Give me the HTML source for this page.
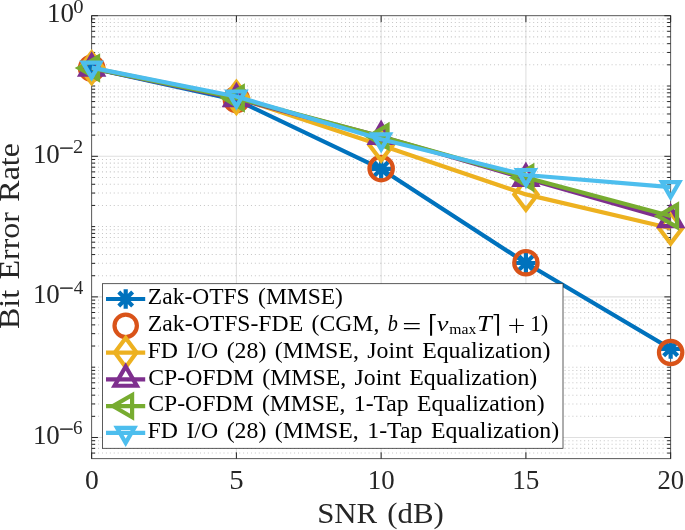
<!DOCTYPE html>
<html lang="en"><head><meta charset="utf-8"><title>BER vs SNR</title>
<style>html,body{margin:0;padding:0;background:#fff}svg{display:block}text{font-family:"Liberation Serif","DejaVu Serif",serif;fill:#262626}.lg text{fill:#000}.xl{font-family:"DejaVu Sans",sans-serif;font-weight:200}.mt{font-family:"DejaVu Math TeX Gyre","DejaVu Serif",serif}</style></head><body>
<svg width="685" height="530" viewBox="0 0 685 530">
<rect width="685" height="530" fill="#fff"/>
<defs><clipPath id="ax"><rect x="91.65" y="15.7" width="579" height="442.95"/></clipPath></defs>
<path d="M91.65 86H670.65M91.65 226.59H670.65M91.65 367.19H670.65M91.65 64.84H670.65M91.65 52.46H670.65M91.65 43.67H670.65M91.65 36.86H670.65M91.65 31.3H670.65M91.65 26.59H670.65M91.65 22.51H670.65M91.65 18.92H670.65M91.65 135.13H670.65M91.65 122.76H670.65M91.65 113.97H670.65M91.65 107.16H670.65M91.65 101.59H670.65M91.65 96.89H670.65M91.65 92.81H670.65M91.65 89.21H670.65M91.65 205.43H670.65M91.65 193.05H670.65M91.65 184.27H670.65M91.65 177.46H670.65M91.65 171.89H670.65M91.65 167.19H670.65M91.65 163.11H670.65M91.65 159.51H670.65M91.65 275.73H670.65M91.65 263.35H670.65M91.65 254.57H670.65M91.65 247.76H670.65M91.65 242.19H670.65M91.65 237.48H670.65M91.65 233.41H670.65M91.65 229.81H670.65M91.65 346.03H670.65M91.65 333.65H670.65M91.65 324.87H670.65M91.65 318.05H670.65M91.65 312.49H670.65M91.65 307.78H670.65M91.65 303.7H670.65M91.65 300.11H670.65M91.65 416.33H670.65M91.65 403.95H670.65M91.65 395.16H670.65M91.65 388.35H670.65M91.65 382.79H670.65M91.65 378.08H670.65M91.65 374H670.65M91.65 370.41H670.65M91.65 453.08H670.65M91.65 448.38H670.65M91.65 444.3H670.65M91.65 440.7H670.65" stroke="#1a1a1a" stroke-opacity="0.25" stroke-width="1.04" stroke-dasharray="1 2.92" stroke-dashoffset="-2.5" fill="none"/>
<path d="M236.4 15.7V458.65M381.15 15.7V458.65M525.9 15.7V458.65M91.65 156.3H670.65M91.65 296.89H670.65M91.65 437.49H670.65" stroke="#262626" stroke-opacity="0.15" stroke-width="1.04" fill="none"/>
<path d="M91.65 458.65v-6.3M91.65 15.7v6.3M236.4 458.65v-6.3M236.4 15.7v6.3M381.15 458.65v-6.3M381.15 15.7v6.3M525.9 458.65v-6.3M525.9 15.7v6.3M670.65 458.65v-6.3M670.65 15.7v6.3M91.65 15.7h6.3M670.65 15.7h-6.3M91.65 86h3.5M670.65 86h-3.5M91.65 156.3h6.3M670.65 156.3h-6.3M91.65 226.59h3.5M670.65 226.59h-3.5M91.65 296.89h6.3M670.65 296.89h-6.3M91.65 367.19h3.5M670.65 367.19h-3.5M91.65 437.49h6.3M670.65 437.49h-6.3M91.65 64.84h3.5M670.65 64.84h-3.5M91.65 52.46h3.5M670.65 52.46h-3.5M91.65 43.67h3.5M670.65 43.67h-3.5M91.65 36.86h3.5M670.65 36.86h-3.5M91.65 31.3h3.5M670.65 31.3h-3.5M91.65 26.59h3.5M670.65 26.59h-3.5M91.65 22.51h3.5M670.65 22.51h-3.5M91.65 18.92h3.5M670.65 18.92h-3.5M91.65 135.13h3.5M670.65 135.13h-3.5M91.65 122.76h3.5M670.65 122.76h-3.5M91.65 113.97h3.5M670.65 113.97h-3.5M91.65 107.16h3.5M670.65 107.16h-3.5M91.65 101.59h3.5M670.65 101.59h-3.5M91.65 96.89h3.5M670.65 96.89h-3.5M91.65 92.81h3.5M670.65 92.81h-3.5M91.65 89.21h3.5M670.65 89.21h-3.5M91.65 205.43h3.5M670.65 205.43h-3.5M91.65 193.05h3.5M670.65 193.05h-3.5M91.65 184.27h3.5M670.65 184.27h-3.5M91.65 177.46h3.5M670.65 177.46h-3.5M91.65 171.89h3.5M670.65 171.89h-3.5M91.65 167.19h3.5M670.65 167.19h-3.5M91.65 163.11h3.5M670.65 163.11h-3.5M91.65 159.51h3.5M670.65 159.51h-3.5M91.65 275.73h3.5M670.65 275.73h-3.5M91.65 263.35h3.5M670.65 263.35h-3.5M91.65 254.57h3.5M670.65 254.57h-3.5M91.65 247.76h3.5M670.65 247.76h-3.5M91.65 242.19h3.5M670.65 242.19h-3.5M91.65 237.48h3.5M670.65 237.48h-3.5M91.65 233.41h3.5M670.65 233.41h-3.5M91.65 229.81h3.5M670.65 229.81h-3.5M91.65 346.03h3.5M670.65 346.03h-3.5M91.65 333.65h3.5M670.65 333.65h-3.5M91.65 324.87h3.5M670.65 324.87h-3.5M91.65 318.05h3.5M670.65 318.05h-3.5M91.65 312.49h3.5M670.65 312.49h-3.5M91.65 307.78h3.5M670.65 307.78h-3.5M91.65 303.7h3.5M670.65 303.7h-3.5M91.65 300.11h3.5M670.65 300.11h-3.5M91.65 416.33h3.5M670.65 416.33h-3.5M91.65 403.95h3.5M670.65 403.95h-3.5M91.65 395.16h3.5M670.65 395.16h-3.5M91.65 388.35h3.5M670.65 388.35h-3.5M91.65 382.79h3.5M670.65 382.79h-3.5M91.65 378.08h3.5M670.65 378.08h-3.5M91.65 374h3.5M670.65 374h-3.5M91.65 370.41h3.5M670.65 370.41h-3.5M91.65 453.08h3.5M670.65 453.08h-3.5M91.65 448.38h3.5M670.65 448.38h-3.5M91.65 444.3h3.5M670.65 444.3h-3.5M91.65 440.7h3.5M670.65 440.7h-3.5" stroke="#262626" stroke-width="1" fill="none"/>
<rect x="91.65" y="15.7" width="579" height="442.95" stroke="#262626" stroke-width="0.9" stroke-opacity="0.85" fill="none"/>
<polyline points="91.65,68.2 236.4,99.9 381.15,168.9 525.9,263 670.65,348.8" stroke="#0072BD" stroke-width="4.2" fill="none" stroke-linejoin="round" clip-path="url(#ax)"/>
<path d="M83.85 68.2L99.45 68.2 M91.65 60.4L91.65 76 M86.13 62.68L97.17 73.72 M86.13 73.72L97.17 62.68" stroke="#0072BD" stroke-width="4.2" stroke-linecap="square" fill="none"/>
<path d="M228.6 99.9L244.2 99.9 M236.4 92.1L236.4 107.7 M230.88 94.38L241.92 105.42 M230.88 105.42L241.92 94.38" stroke="#0072BD" stroke-width="4.2" stroke-linecap="square" fill="none"/>
<path d="M373.35 168.9L388.95 168.9 M381.15 161.1L381.15 176.7 M375.63 163.38L386.67 174.42 M375.63 174.42L386.67 163.38" stroke="#0072BD" stroke-width="4.2" stroke-linecap="square" fill="none"/>
<path d="M518.1 263L533.7 263 M525.9 255.2L525.9 270.8 M520.38 257.48L531.42 268.52 M520.38 268.52L531.42 257.48" stroke="#0072BD" stroke-width="4.2" stroke-linecap="square" fill="none"/>
<path d="M662.85 348.8L678.45 348.8 M670.65 341L670.65 356.6 M665.13 343.28L676.17 354.32 M665.13 354.32L676.17 343.28" stroke="#0072BD" stroke-width="4.2" stroke-linecap="square" fill="none"/>
<circle cx="91.65" cy="68.2" r="11.7" stroke="#D95319" stroke-width="4.2" fill="none"/>
<circle cx="236.4" cy="99.6" r="11.7" stroke="#D95319" stroke-width="4.2" fill="none"/>
<circle cx="381.15" cy="168.6" r="11.7" stroke="#D95319" stroke-width="4.2" fill="none"/>
<circle cx="525.9" cy="262.7" r="11.7" stroke="#D95319" stroke-width="4.2" fill="none"/>
<circle cx="670.65" cy="352.5" r="11.7" stroke="#D95319" stroke-width="4.2" fill="none"/>
<polyline points="91.65,67.7 236.4,97.4 381.15,145.2 525.9,194.4 670.65,228.2" stroke="#EDB120" stroke-width="4.2" fill="none" stroke-linejoin="round" clip-path="url(#ax)"/>
<polygon points="91.65,52.4 103.25,67.7 91.65,83 80.05,67.7" stroke="#EDB120" stroke-width="4.2" fill="none" stroke-miterlimit="10"/>
<polygon points="236.4,82.1 248,97.4 236.4,112.7 224.8,97.4" stroke="#EDB120" stroke-width="4.2" fill="none" stroke-miterlimit="10"/>
<polygon points="381.15,129.9 392.75,145.2 381.15,160.5 369.55,145.2" stroke="#EDB120" stroke-width="4.2" fill="none" stroke-miterlimit="10"/>
<polygon points="525.9,179.1 537.5,194.4 525.9,209.7 514.3,194.4" stroke="#EDB120" stroke-width="4.2" fill="none" stroke-miterlimit="10"/>
<polygon points="670.65,212.9 682.25,228.2 670.65,243.5 659.05,228.2" stroke="#EDB120" stroke-width="4.2" fill="none" stroke-miterlimit="10"/>
<polyline points="91.65,68.2 236.4,98.7 381.15,136.6 525.9,178.6 670.65,219.7" stroke="#7E2F8E" stroke-width="4.2" fill="none" stroke-linejoin="round" clip-path="url(#ax)"/>
<polygon points="91.65,55.4 102.74,74.6 80.56,74.6" stroke="#7E2F8E" stroke-width="4.2" fill="none" stroke-miterlimit="10"/>
<polygon points="236.4,85.9 247.49,105.1 225.31,105.1" stroke="#7E2F8E" stroke-width="4.2" fill="none" stroke-miterlimit="10"/>
<polygon points="381.15,123.8 392.24,143 370.06,143" stroke="#7E2F8E" stroke-width="4.2" fill="none" stroke-miterlimit="10"/>
<polygon points="525.9,165.8 536.99,185 514.81,185" stroke="#7E2F8E" stroke-width="4.2" fill="none" stroke-miterlimit="10"/>
<polygon points="670.65,206.9 681.74,226.1 659.56,226.1" stroke="#7E2F8E" stroke-width="4.2" fill="none" stroke-miterlimit="10"/>
<polyline points="91.65,68.1 236.4,98 381.15,136.5 525.9,177.5 670.65,216" stroke="#77AC30" stroke-width="4.2" fill="none" stroke-linejoin="round" clip-path="url(#ax)"/>
<polygon points="78.85,68.1 98.05,57.01 98.05,79.19" stroke="#77AC30" stroke-width="4.2" fill="none" stroke-miterlimit="10"/>
<polygon points="223.6,98 242.8,86.91 242.8,109.09" stroke="#77AC30" stroke-width="4.2" fill="none" stroke-miterlimit="10"/>
<polygon points="368.35,136.5 387.55,125.41 387.55,147.59" stroke="#77AC30" stroke-width="4.2" fill="none" stroke-miterlimit="10"/>
<polygon points="513.1,177.5 532.3,166.41 532.3,188.59" stroke="#77AC30" stroke-width="4.2" fill="none" stroke-miterlimit="10"/>
<polygon points="657.85,216 677.05,204.91 677.05,227.09" stroke="#77AC30" stroke-width="4.2" fill="none" stroke-miterlimit="10"/>
<polyline points="91.65,67.6 236.4,96.5 381.15,139.3 525.9,175 670.65,187.1" stroke="#4DBEEE" stroke-width="4.2" fill="none" stroke-linejoin="round" clip-path="url(#ax)"/>
<polygon points="91.65,77.6 82.99,62.6 100.31,62.6" stroke="#4DBEEE" stroke-width="4.2" fill="none" stroke-miterlimit="10"/>
<polygon points="236.4,106.5 227.74,91.5 245.06,91.5" stroke="#4DBEEE" stroke-width="4.2" fill="none" stroke-miterlimit="10"/>
<polygon points="381.15,149.3 372.49,134.3 389.81,134.3" stroke="#4DBEEE" stroke-width="4.2" fill="none" stroke-miterlimit="10"/>
<polygon points="525.9,185 517.24,170 534.56,170" stroke="#4DBEEE" stroke-width="4.2" fill="none" stroke-miterlimit="10"/>
<polygon points="670.65,197.1 661.99,182.1 679.31,182.1" stroke="#4DBEEE" stroke-width="4.2" fill="none" stroke-miterlimit="10"/>
<text transform="translate(84.95 488.8) scale(1.0489 1)" font-size="26.3">0</text>
<text transform="translate(229.16 488.8) scale(1.0952 1)" font-size="26.3">5</text>
<text transform="translate(367.7 488.8) scale(1.0217 1)" font-size="26.3">10</text>
<text transform="translate(512.27 488.8) scale(1.0348 1)" font-size="26.3">15</text>
<text transform="translate(657.43 488.8) scale(1.0125 1)" font-size="26.3">20</text>
<text transform="translate(47.09 22.1) scale(1.0261 1)" font-size="26.3">10</text>
<text transform="translate(73.14 12.6) scale(1.1467 1)" font-size="18">0</text>
<text transform="translate(32.89 162.7) scale(1.0261 1)" font-size="26.3">10</text>
<text transform="translate(59.19 153.6) scale(1.4061 1)" font-size="18" stroke="#262626" stroke-width="0.45">−</text>
<text transform="translate(73.05 153.2) scale(1.131 1)" font-size="18">2</text>
<text transform="translate(32.89 303.29) scale(1.0261 1)" font-size="26.3">10</text>
<text transform="translate(59.19 294.19) scale(1.4061 1)" font-size="18" stroke="#262626" stroke-width="0.45">−</text>
<text transform="translate(73.64 293.79) scale(1.0588 1)" font-size="18">4</text>
<text transform="translate(32.89 443.89) scale(1.0261 1)" font-size="26.3">10</text>
<text transform="translate(59.19 434.79) scale(1.4061 1)" font-size="18" stroke="#262626" stroke-width="0.45">−</text>
<text transform="translate(73.11 434.39) scale(1.0581 1)" font-size="18">6</text>
<text transform="translate(317.17 522.9) scale(1.0644 1)" font-size="29" word-spacing="2.2">SNR (dB)</text>
<text transform="translate(19.45 329.03) rotate(-90) scale(1.1024 1)" font-size="29" word-spacing="2.2">Bit Error Rate</text>
<g class="lg">
<rect x="102.4" y="283.7" width="460.6" height="164.6" fill="#fff" stroke="#262626" stroke-width="0.75"/>
<path d="M106 299H145.2" stroke="#0072BD" stroke-width="4.2" fill="none"/>
<path d="M118 299L133.4 299 M125.7 291.3L125.7 306.7 M120.26 293.56L131.14 304.44 M120.26 304.44L131.14 293.56" stroke="#0072BD" stroke-width="4.2" stroke-linecap="square" fill="none"/>
<text transform="translate(147.86 304.2) scale(1.0447 1)" font-size="22.5" word-spacing="2.4">Zak-OTFS (MMSE)</text>
<circle cx="125.7" cy="325.78" r="11.2" stroke="#D95319" stroke-width="4.2" fill="none"/>
<text transform="translate(147.85 330.98) scale(1.0533 1)" font-size="22.5" word-spacing="2.4">Zak-OTFS-FDE (CGM,</text>
<text transform="translate(387.72 330.98) scale(0.9026 1)" font-size="22.5" font-style="italic">b</text>
<text transform="translate(401.2 335.24) scale(1.1214 1.2889)" font-size="22.5" class="xl">=</text>
<text transform="translate(427.15 332.4) scale(1.0364 1.1077)" font-size="22.5" class="mt">⌈</text>
<text transform="translate(436.71 331.07) scale(1.1692 0.9395)" font-size="22.5" font-style="italic">ν</text>
<text transform="translate(449.35 334.28) scale(1.0075 1)" font-size="15.6">max</text>
<text transform="translate(477.04 330.98) scale(1.1755 1)" font-size="22.5" font-style="italic">T</text>
<text transform="translate(492.55 332.4) scale(1 1.1077)" font-size="22.5" class="mt">⌉</text>
<text transform="translate(506.71 332.5) scale(1.0357 1.0175)" font-size="22.5" class="xl">+</text>
<text transform="translate(530.28 330.98) scale(0.9587 1)" font-size="22.5">1)</text>
<path d="M106 352.56H145.2" stroke="#EDB120" stroke-width="4.2" fill="none"/>
<polygon points="125.7,337.96 136.5,352.56 125.7,367.16 114.9,352.56" stroke="#EDB120" stroke-width="4.2" fill="none" stroke-miterlimit="10"/>
<text transform="translate(147.51 357.76) scale(1.0591 1)" font-size="22.5" word-spacing="2.4">FD I/O (28) (MMSE, Joint Equalization)</text>
<path d="M106 379.34H145.2" stroke="#7E2F8E" stroke-width="4.2" fill="none"/>
<polygon points="125.7,366.54 136.79,385.74 114.61,385.74" stroke="#7E2F8E" stroke-width="4.2" fill="none" stroke-miterlimit="10"/>
<text transform="translate(148.24 384.54) scale(1.0568 1)" font-size="22.5" word-spacing="2.4">CP-OFDM (MMSE, Joint Equalization)</text>
<path d="M106 406.12H145.2" stroke="#77AC30" stroke-width="4.2" fill="none"/>
<polygon points="112.9,406.12 132.1,395.03 132.1,417.21" stroke="#77AC30" stroke-width="4.2" fill="none" stroke-miterlimit="10"/>
<text transform="translate(148.25 411.32) scale(1.0524 1)" font-size="22.5" word-spacing="2.4">CP-OFDM (MMSE, 1-Tap Equalization)</text>
<path d="M106 432.9H145.2" stroke="#4DBEEE" stroke-width="4.2" fill="none"/>
<polygon points="125.7,442.9 117.04,427.9 134.36,427.9" stroke="#4DBEEE" stroke-width="4.2" fill="none" stroke-miterlimit="10"/>
<text transform="translate(147.51 438.1) scale(1.0585 1)" font-size="22.5" word-spacing="2.4">FD I/O (28) (MMSE, 1-Tap Equalization)</text>
</g>
</svg></body></html>
